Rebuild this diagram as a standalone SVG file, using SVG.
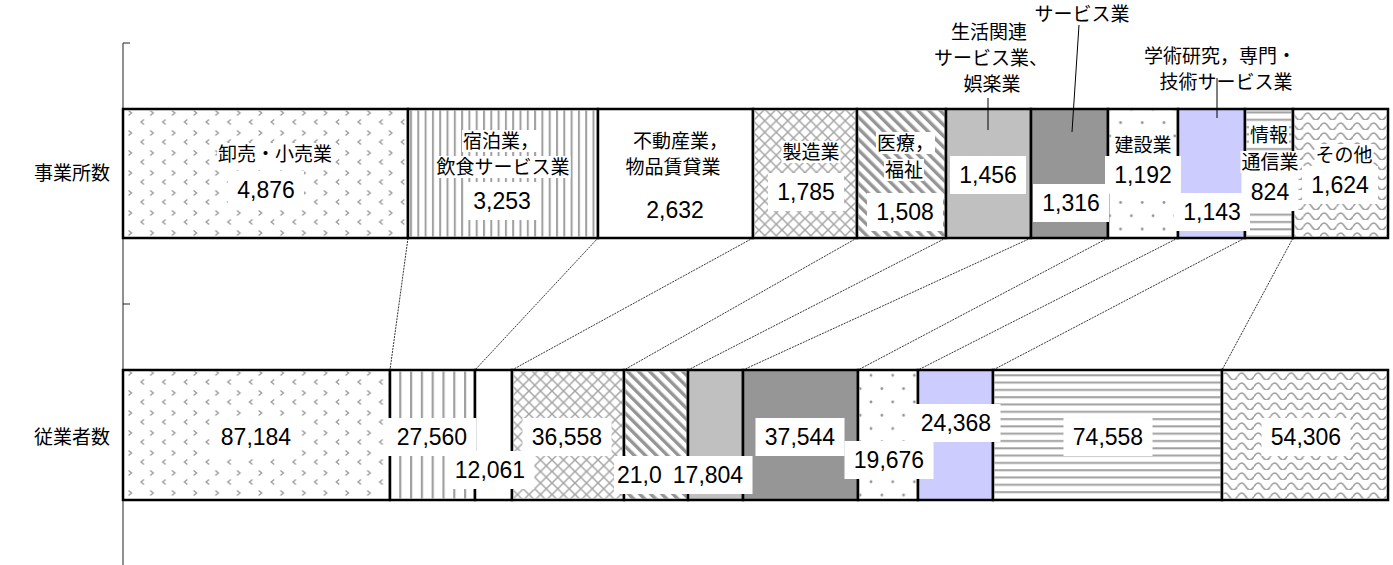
<svg xmlns="http://www.w3.org/2000/svg" width="1393" height="565" viewBox="0 0 1393 565">
<style>
.cell{stroke:#000;stroke-width:2.5}
.nm{font-family:"Noto Sans CJK JP","Liberation Sans",sans-serif;font-size:19px;fill:#000}
.v{font-family:"Liberation Sans",Arial,sans-serif;font-size:23px;fill:#000;text-anchor:middle}
.c{text-anchor:middle}
.bx{fill:#fff}
.conn{stroke:#000;stroke-width:0.8;stroke-dasharray:2 1;fill:none}
.lead{stroke:#000;stroke-width:1;fill:none}
.ax{stroke:#222;stroke-width:1;fill:none}
</style>
<defs>
<pattern id="pDiv" patternUnits="userSpaceOnUse" x="123" y="110" width="21.7" height="20">
<path d="M5.5,0.5 l3,2.5 l-3,2.5" fill="none" stroke="#9c9c9c" stroke-width="1.4"/>
<path d="M21,9.5 l-3,2.5 l3,2.5" fill="none" stroke="#9c9c9c" stroke-width="1.4"/>
</pattern>
<pattern id="pVt" patternUnits="userSpaceOnUse" x="410" y="0" width="7.3" height="10">
<rect x="0" y="0" width="2" height="10" fill="#a0a0a0"/>
</pattern>
<pattern id="pVb" patternUnits="userSpaceOnUse" x="410" y="0" width="10.8" height="10">
<rect x="0" y="0" width="2.2" height="10" fill="#a0a0a0"/>
</pattern>
<pattern id="pX" patternUnits="userSpaceOnUse" x="0" y="0" width="11.5" height="11.5">
<path d="M0,0 L11.5,11.5 M11.5,0 L0,11.5" stroke="#a4a4a4" stroke-width="1.5" fill="none"/>
</pattern>
<pattern id="pD" patternUnits="userSpaceOnUse" width="7.8" height="10" patternTransform="rotate(-45)">
<rect x="0" y="0" width="3.4" height="10" fill="#959595"/>
</pattern>
<pattern id="pDot" patternUnits="userSpaceOnUse" x="0" y="0" width="21.7" height="26.6">
<circle cx="3" cy="3" r="1.4" fill="#929292"/>
<circle cx="13.85" cy="16.3" r="1.4" fill="#929292"/>
</pattern>
<pattern id="pH" patternUnits="userSpaceOnUse" x="0" y="0" width="10" height="7.3">
<rect x="0" y="2" width="10" height="2" fill="#a0a0a0"/>
</pattern>
<pattern id="pW" patternUnits="userSpaceOnUse" x="0" y="0" width="16.5" height="10">
<path d="M0,6.5 Q4.1,-0.5 8.25,6.5 T16.5,6.5" stroke="#a0a0a0" stroke-width="1.6" fill="none"/>
</pattern>
</defs>
<rect width="1393" height="565" fill="#fff"/>

<g id="axis">
<line class="ax" x1="123" y1="43" x2="123" y2="565"/>
<line class="ax" x1="123" y1="43" x2="130" y2="43"/>
<line class="ax" x1="123" y1="304" x2="130" y2="304"/>
<text class="nm c" x="72" y="180">事業所数</text>
<text class="nm c" x="72" y="444">従業者数</text>
</g>

<g id="connectors">
<line class="conn" x1="408" y1="238" x2="390" y2="370"/>
<line class="conn" x1="598" y1="238" x2="475" y2="370"/>
<line class="conn" x1="753" y1="238" x2="512" y2="370"/>
<line class="conn" x1="857" y1="238" x2="624" y2="370"/>
<line class="conn" x1="946" y1="238" x2="688" y2="370"/>
<line class="conn" x1="1031" y1="238" x2="743" y2="370"/>
<line class="conn" x1="1108" y1="238" x2="858" y2="370"/>
<line class="conn" x1="1178" y1="238" x2="918" y2="370"/>
<line class="conn" x1="1245" y1="238" x2="993" y2="370"/>
<line class="conn" x1="1293" y1="238" x2="1222" y2="370"/>
</g>

<g id="bar-establishments">
<g id="t-wholesale"><rect class="cell" x="123" y="109" width="285" height="129" fill="#fff"/><rect x="124" y="110" width="283" height="127" fill="url(#pDiv)"/></g>
<g id="t-lodging"><rect class="cell" x="408" y="109" width="190" height="129" fill="#fff"/><rect x="409.5" y="110" width="187" height="127" fill="url(#pVt)"/></g>
<g id="t-realestate"><rect class="cell" x="598" y="109" width="155" height="129" fill="#fff"/></g>
<g id="t-manufacturing"><rect class="cell" x="753" y="109" width="104" height="129" fill="#fff"/><rect x="754" y="110" width="102" height="127" fill="url(#pX)"/></g>
<g id="t-medical"><rect class="cell" x="857" y="109" width="89" height="129" fill="#fff"/><rect x="858" y="110" width="87" height="127" fill="url(#pD)"/></g>
<g id="t-living"><rect class="cell" x="946" y="109" width="85" height="129" fill="#c0c0c0"/></g>
<g id="t-otherservice"><rect class="cell" x="1031" y="109" width="77" height="129" fill="#969696"/></g>
<g id="t-construction"><rect class="cell" x="1108" y="109" width="70" height="129" fill="#fff"/><rect x="1109" y="110" width="68" height="127" fill="url(#pDot)"/></g>
<g id="t-academic"><rect class="cell" x="1178" y="109" width="67" height="129" fill="#ccccff"/></g>
<g id="t-info"><rect class="cell" x="1245" y="109" width="48" height="129" fill="#fff"/><rect x="1246" y="110" width="46" height="127" fill="url(#pH)"/></g>
<g id="t-others"><rect class="cell" x="1293" y="109" width="95" height="129" fill="#fff"/><rect x="1294" y="110" width="93" height="127" fill="url(#pW)"/></g>
</g>

<g id="bar-employees">
<g id="b-wholesale"><rect class="cell" x="123" y="370" width="267" height="130" fill="#fff"/><rect x="124" y="371" width="265" height="128" fill="url(#pDiv)"/></g>
<g id="b-lodging"><rect class="cell" x="390" y="370" width="85" height="130" fill="#fff"/><rect x="391.5" y="371" width="82" height="128" fill="url(#pVb)"/></g>
<g id="b-realestate"><rect class="cell" x="475" y="370" width="37" height="130" fill="#fff"/></g>
<g id="b-manufacturing"><rect class="cell" x="512" y="370" width="112" height="130" fill="#fff"/><rect x="513" y="371" width="110" height="128" fill="url(#pX)"/></g>
<g id="b-medical"><rect class="cell" x="624" y="370" width="64" height="130" fill="#fff"/><rect x="625" y="371" width="62" height="128" fill="url(#pD)"/></g>
<g id="b-living"><rect class="cell" x="688" y="370" width="55" height="130" fill="#c0c0c0"/></g>
<g id="b-otherservice"><rect class="cell" x="743" y="370" width="115" height="130" fill="#969696"/></g>
<g id="b-construction"><rect class="cell" x="858" y="370" width="60" height="130" fill="#fff"/><rect x="859" y="371" width="58" height="128" fill="url(#pDot)"/></g>
<g id="b-academic"><rect class="cell" x="918" y="370" width="75" height="130" fill="#ccccff"/></g>
<g id="b-info"><rect class="cell" x="993" y="370" width="229" height="130" fill="#fff"/><rect x="994" y="371" width="227" height="128" fill="url(#pH)"/></g>
<g id="b-others"><rect class="cell" x="1222" y="370" width="166" height="130" fill="#fff"/><rect x="1223" y="371" width="164" height="128" fill="url(#pW)"/></g>
</g>

<g id="labels-establishments">
<g id="lt-wholesale"><rect class="bx" x="217" y="143" width="116" height="22"/><text class="nm" x="218" y="161">卸売・小売業</text>
<rect class="bx" x="228" y="171" width="76" height="38"/><text class="v" x="266" y="198">4,876</text></g>
<g id="lt-lodging"><rect class="bx" x="462" y="130" width="78" height="22"/><text class="nm" x="463" y="148">宿泊業，</text>
<rect class="bx" x="435.5" y="156" width="135" height="22"/><text class="nm c" x="503" y="174">飲食サービス業</text>
<rect class="bx" x="464" y="182" width="76" height="38"/><text class="v" x="502" y="209">3,253</text></g>
<g id="lt-realestate"><text class="nm" x="633" y="148">不動産業，</text>
<text class="nm c" x="673" y="174">物品賃貸業</text>
<text class="v" x="675" y="218">2,632</text></g>
<g id="lt-manufacturing"><rect class="bx" x="781.5" y="141" width="59" height="22"/><text class="nm c" x="811" y="159">製造業</text>
<rect class="bx" x="768" y="173" width="76" height="38"/><text class="v" x="806" y="200">1,785</text></g>
<g id="lt-medical"><rect class="bx" x="876" y="132" width="59" height="22"/><text class="nm" x="877" y="150">医療，</text>
<rect class="bx" x="884" y="159" width="40" height="22"/><text class="nm c" x="904" y="177">福祉</text>
<rect class="bx" x="867" y="193" width="76" height="38"/><text class="v" x="905" y="220">1,508</text></g>
<g id="lt-living"><rect class="bx" x="950" y="156" width="76" height="38"/><text class="v" x="988" y="183">1,456</text></g>
<g id="lt-otherservice"><rect class="bx" x="1033" y="184" width="76" height="38"/><text class="v" x="1071" y="211">1,316</text></g>
<g id="lt-construction"><rect class="bx" x="1113.5" y="134" width="59" height="22"/><text class="nm c" x="1143" y="152">建設業</text>
<rect class="bx" x="1105" y="156" width="76" height="38"/><text class="v" x="1143" y="183">1,192</text></g>
<g id="lt-academic"><rect class="bx" x="1174" y="193" width="76" height="38"/><text class="v" x="1212" y="220">1,143</text></g>
<g id="lt-info"><rect class="bx" x="1249" y="124" width="40" height="22"/><text class="nm c" x="1269" y="142">情報</text>
<rect class="bx" x="1240.5" y="151" width="59" height="22"/><text class="nm c" x="1270" y="169">通信業</text>
<rect class="bx" x="1241.5" y="173" width="57" height="38"/><text class="v" x="1270" y="200">824</text></g>
<g id="lt-others"><rect class="bx" x="1314.5" y="144" width="59" height="22"/><text class="nm c" x="1344" y="162">その他</text>
<rect class="bx" x="1302" y="166" width="76" height="38"/><text class="v" x="1340" y="193">1,624</text></g>
</g>

<g id="labels-employees">
<g id="lb-wholesale"><rect class="bx" x="211.5" y="418" width="89" height="38"/><text class="v" x="256" y="445">87,184</text></g>
<g id="lb-lodging"><rect class="bx" x="387.5" y="418" width="89" height="38"/><text class="v" x="432" y="445">27,560</text></g>
<g id="lb-realestate"><rect class="bx" x="445.5" y="451" width="89" height="38"/><text class="v" x="490" y="478">12,061</text></g>
<g id="lb-manufacturing"><rect class="bx" x="522.5" y="418" width="89" height="38"/><text class="v" x="567" y="445">36,558</text></g>
<g id="lb-medical"><rect class="bx" x="614" y="456" width="50" height="38"/><text class="v" x="617" y="483" style="text-anchor:start">21,0</text></g>
<g id="lb-living"><rect class="bx" x="663.5" y="456" width="89" height="38"/><text class="v" x="708" y="483">17,804</text></g>
<g id="lb-otherservice"><rect class="bx" x="755.5" y="418" width="89" height="38"/><text class="v" x="800" y="445">37,544</text></g>
<g id="lb-construction"><rect class="bx" x="844.5" y="441" width="89" height="38"/><text class="v" x="889" y="468">19,676</text></g>
<g id="lb-academic"><rect class="bx" x="911.5" y="404" width="89" height="38"/><text class="v" x="956" y="431">24,368</text></g>
<g id="lb-info"><rect class="bx" x="1063.5" y="418" width="89" height="38"/><text class="v" x="1108" y="445">74,558</text></g>
<g id="lb-others"><rect class="bx" x="1261.5" y="418" width="89" height="38"/><text class="v" x="1306" y="445">54,306</text></g>
</g>

<g id="callouts">
<g id="co-living">
<line class="lead" x1="988" y1="98" x2="988" y2="130"/>
<text class="nm c" x="989" y="39">生活関連</text>
<text class="nm c" x="991" y="65">サービス業、</text>
<text class="nm c" x="992" y="91">娯楽業</text>
</g>
<g id="co-otherservice">
<line class="lead" x1="1079" y1="25" x2="1072" y2="132"/>
<text class="nm c" x="1082" y="21">サービス業</text>
</g>
<g id="co-academic">
<line class="lead" x1="1217" y1="78" x2="1217" y2="118"/>
<text class="nm c" x="1220" y="63">学術研究，専門・</text>
<text class="nm c" x="1226" y="89">技術サービス業</text>
</g>
</g>
</svg>
